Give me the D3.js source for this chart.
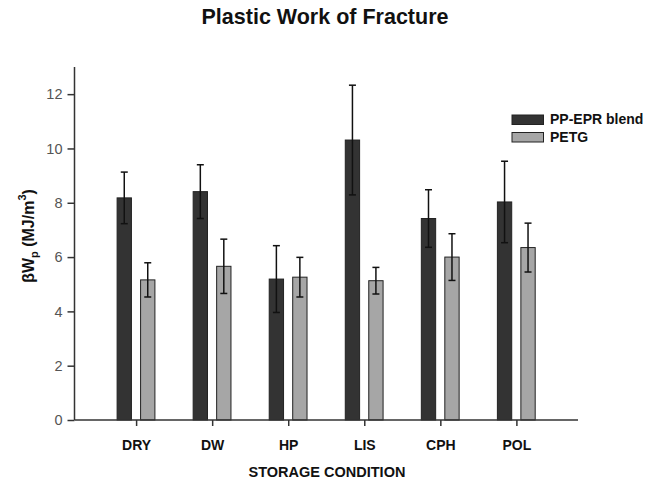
<!DOCTYPE html>
<html>
<head>
<meta charset="utf-8">
<script src="https://cdn.jsdelivr.net/npm/d3@7"></script>
<style>
  html, body { margin: 0; padding: 0; background: #fff; }
  svg { display: block; font-family: "Liberation Sans", Arial, sans-serif; }
</style>
</head>
<body>
<svg id="chart" width="655" height="482"></svg>
<script>
const categories = ["DRY", "DW", "HP", "LIS", "CPH", "POL"];
const seriesNames = ["PP-EPR blend", "PETG"];
const ppEprValues = [8.18, 8.41, 5.19, 10.31, 7.42, 8.03];
const ppEprErrors = [0.95, 0.99, 1.23, 2.02, 1.06, 1.50];
const petgValues = [5.16, 5.66, 5.26, 5.13, 6.00, 6.35];
const petgErrors = [0.63, 1.00, 0.73, 0.49, 0.86, 0.90];
const yTicks = [0, 2, 4, 6, 8, 10, 12];

(function () {
const svg = d3.select("#chart");
const plotLeft = 74.5, plotRight = 578, plotTop = 67, plotBottom = 420;

const x = d3.scalePoint().domain(categories).range([plotLeft, plotRight]).padding(0.81);
const x1 = d3.scaleBand().domain(seriesNames).range([-19, 18.8]).paddingInner(0.39);
const y = d3.scaleLinear().domain([0, 13]).range([plotBottom, plotTop]);

const fills = { "PP-EPR blend": "#333333", "PETG": "#a6a6a6" };

const data = [];
categories.forEach((c, i) => {
  data.push({ cat: c, s: "PP-EPR blend", v: ppEprValues[i], e: ppEprErrors[i] });
  data.push({ cat: c, s: "PETG", v: petgValues[i], e: petgErrors[i] });
});

// Title
svg.append("text").attr("x", 325).attr("y", 23.5).attr("text-anchor", "middle")
  .attr("font-size", 21.5).attr("font-weight", "bold").attr("fill", "#111")
  .text("Plastic Work of Fracture");

// Bars
svg.append("g").selectAll("rect").data(data).join("rect")
  .attr("x", d => x(d.cat) + x1(d.s))
  .attr("y", d => y(d.v))
  .attr("width", x1.bandwidth())
  .attr("height", d => y(0) - y(d.v))
  .attr("fill", d => fills[d.s])
  .attr("stroke", "#222")
  .attr("stroke-width", 1);

// Error bars
const eg = svg.append("g").attr("stroke", "#111").attr("stroke-width", 1.5);
data.forEach(d => {
  const cx = x(d.cat) + x1(d.s) + x1.bandwidth() / 2;
  eg.append("line").attr("x1", cx).attr("x2", cx).attr("y1", y(d.v + d.e)).attr("y2", y(d.v - d.e));
  eg.append("line").attr("x1", cx - 3.5).attr("x2", cx + 3.5).attr("y1", y(d.v + d.e)).attr("y2", y(d.v + d.e));
  eg.append("line").attr("x1", cx - 3.5).attr("x2", cx + 3.5).attr("y1", y(d.v - d.e)).attr("y2", y(d.v - d.e));
});

// Y axis
const yAxis = svg.append("g").attr("transform", `translate(${plotLeft},0)`)
  .call(d3.axisLeft(y).tickValues(yTicks).tickSize(7).tickPadding(5));
yAxis.select(".domain").attr("d", `M0,${plotTop}V${plotBottom}`);
yAxis.selectAll("line, path").attr("stroke", "#333").attr("stroke-width", 1.5);
yAxis.selectAll("text").attr("font-size", 14.5).attr("fill", "#555")
  .attr("font-family", "Liberation Sans, Arial, sans-serif");

// X axis
const xAxis = svg.append("g").attr("transform", `translate(0,${plotBottom})`)
  .call(d3.axisBottom(x).tickSize(6).tickPadding(14));
xAxis.select(".domain").attr("d", `M${plotLeft},0H${plotRight}`);
xAxis.selectAll("line, path").attr("stroke", "#333").attr("stroke-width", 1.5);
xAxis.selectAll("text").attr("font-size", 14).attr("font-weight", "bold").attr("fill", "#111")
  .attr("font-family", "Liberation Sans, Arial, sans-serif");

// X title
svg.append("text").attr("x", 327).attr("y", 477).attr("text-anchor", "middle")
  .attr("font-size", 14.5).attr("font-weight", "bold").attr("fill", "#111")
  .text("STORAGE CONDITION");

// Y title
const yt = svg.append("text").attr("transform", "translate(33.5,236) rotate(-90)")
  .attr("text-anchor", "middle").attr("font-size", 16).attr("font-weight", "bold").attr("fill", "#111");
yt.append("tspan").text("βW");
yt.append("tspan").attr("font-size", 11).attr("dy", 4).text("p");
yt.append("tspan").attr("dy", -4).text(" (MJ/m");
yt.append("tspan").attr("font-size", 11).attr("dy", -8).text("3");
yt.append("tspan").attr("dy", 8).text(")");

// Legend
const lg = svg.append("g");
seriesNames.forEach((s, i) => {
  const gy = 115 + i * 17.5;
  lg.append("rect").attr("x", 512).attr("y", gy).attr("width", 31.5).attr("height", 9.5)
    .attr("fill", fills[s]).attr("stroke", "#222").attr("stroke-width", 1);
  lg.append("text").attr("x", 550).attr("y", gy + 9).attr("font-size", 14).attr("font-weight", "bold")
    .attr("fill", "#111").text(s);
});
})();
</script>
</body>
</html>
